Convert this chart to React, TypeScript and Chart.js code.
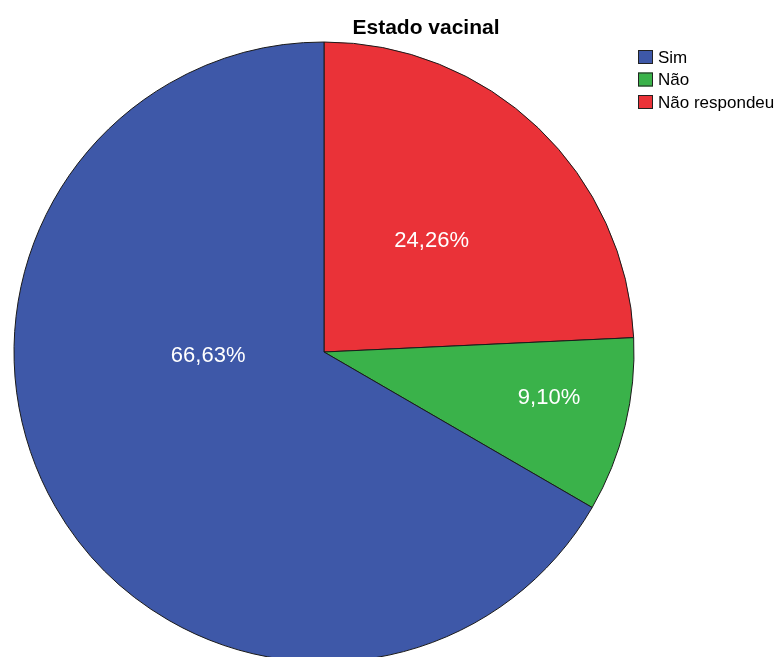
import React, { useEffect, useRef } from "react";
import { Chart, registerables } from "chart.js";

Chart.register(...registerables);

const TITLE = "Estado vacinal";
// legend order (top to bottom)
const categories = ["Sim", "Não", "Não respondeu"];
const percentages = [66.63, 9.1, 24.26];
const colors = ["#3E58A8", "#3AB24A", "#EA3238"];
// drawing order clockwise from 12 o'clock
const drawOrder = [2, 1, 0];

// label placement (angle from 12 o'clock clockwise, fraction of radius), per category
const labelPlacement = [
  { angle: 268, frac: 0.374 },
  { angle: 101.6, frac: 0.741 },
  { angle: 44.1, frac: 0.499 },
];

const fmt = (v: number) => v.toFixed(2).replace(".", ",") + "%";

const overlayPlugin = {
  id: "spssOverlay",
  afterDatasetsDraw(chart: any) {
    const ctx = chart.ctx as CanvasRenderingContext2D;
    const meta = chart.getDatasetMeta(0);
    const ds = chart.data.datasets[0];
    const idxMap: number[] = ds.catIndex;
    ctx.save();
    // data labels
    ctx.fillStyle = "#ffffff";
    ctx.font = "22px 'Liberation Sans', Arial, sans-serif";
    ctx.textAlign = "center";
    ctx.textBaseline = "middle";
    meta.data.forEach((arc: any, i: number) => {
      const cat = idxMap[i];
      const p = labelPlacement[cat];
      const r = arc.outerRadius * p.frac;
      const a = (p.angle * Math.PI) / 180;
      const x = arc.x + r * Math.sin(a);
      const y = arc.y - r * Math.cos(a);
      ctx.fillText(fmt(ds.data[i]), x, y);
    });
    // title
    ctx.fillStyle = "#000000";
    ctx.font = "bold 21px 'Liberation Sans', Arial, sans-serif";
    ctx.fillText(TITLE, 426, 28);
    // legend
    ctx.textAlign = "left";
    ctx.font = "17px 'Liberation Sans', Arial, sans-serif";
    categories.forEach((c, k) => {
      const cy = 57 + k * 22.5;
      ctx.fillStyle = colors[k];
      ctx.fillRect(638, cy - 7, 15, 14);
      ctx.strokeStyle = "#222";
      ctx.lineWidth = 1;
      ctx.strokeRect(638.5, cy - 6.5, 14, 13);
      ctx.fillStyle = "#000";
      ctx.fillText(c, 658, cy + 1);
    });
    ctx.restore();
  },
};

export default function App() {
  const ref = useRef<HTMLCanvasElement>(null);
  useEffect(() => {
    if (!ref.current) return;
    const chart = new Chart(ref.current, {
      type: "pie",
      data: {
        labels: drawOrder.map((i) => categories[i]),
        datasets: [
          {
            data: drawOrder.map((i) => percentages[i]),
            backgroundColor: drawOrder.map((i) => colors[i]),
            borderColor: "#1a1a1a",
            borderWidth: 1,
            radius: 310,
            catIndex: drawOrder,
          } as any,
        ],
      },
      options: {
        animation: false,
        responsive: false,
        devicePixelRatio: 1,
        layout: { padding: { left: 0, right: 131, top: 47, bottom: 0 } },
        plugins: {
          legend: { display: false },
          title: { display: false },
          tooltip: { enabled: false },
        },
      },
      plugins: [overlayPlugin],
    });
    return () => chart.destroy();
  }, []);
  return (
    <div style={{ position: "fixed", left: 0, top: 0, width: 779, height: 657, background: "#fff" }}>
      <canvas ref={ref} width={779} height={657} style={{ width: 779, height: 657 }} />
    </div>
  );
}
